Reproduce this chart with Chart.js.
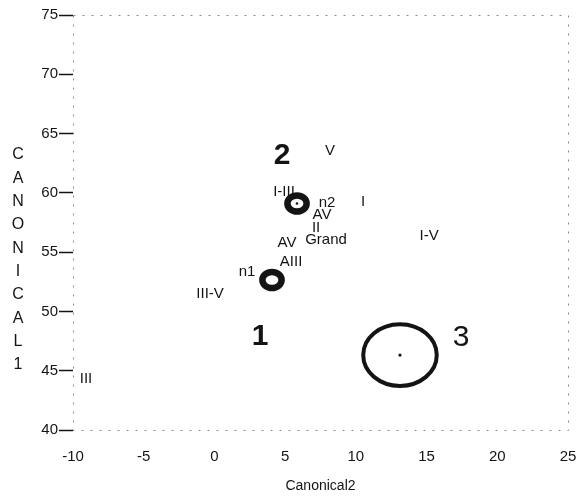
<!DOCTYPE html>
<html>
<head>
<meta charset="utf-8">
<script src="https://cdn.jsdelivr.net/npm/chart.js@4"></script>
<style>
  html, body { margin: 0; padding: 0; background: #fff; }
  #wrap { width: 581px; height: 499px; position: relative; }
</style>
</head>
<body>
<div id="wrap"><canvas id="canChart"></canvas></div>
<script>
// --- data: cluster centres (Canonical2, Canonical1) + circle radius in data units ---
const clusterX = [4.07, 5.84, 13.12];
const clusterY = [52.65, 59.10, 46.32];
const clusterR = [0.68, 0.68, 2.6];

const clusterNames = ['1', '2', '3'];
const clusterNameX = [3.22, 4.78, 17.44];
const clusterNameY = [47.84, 63.1, 47.76];

// point labels
const labelText = ['V', 'I-III', 'n2', 'I', 'AV', 'II', 'AV', 'Grand', 'AIII', 'n1', 'III-V', 'I-V', 'III'];
const labelX = [8.18, 4.92, 7.96, 10.51, 7.61, 7.19, 5.13, 7.89, 5.42, 2.31, -0.31, 15.18, -9.08];
const labelY = [63.52, 60.07, 59.14, 59.22, 58.13, 57.03, 55.77, 56.02, 54.17, 53.32, 51.47, 56.36, 44.3];

const xTicks = [-10, -5, 0, 5, 10, 15, 20, 25];
const yTicks = [40, 45, 50, 55, 60, 65, 70, 75];
const xTitle = 'Canonical2';
const yTitle = 'CANONICAL1';

const FONT = '"Liberation Sans", Arial, sans-serif';
const INK = '#141414';

// --- plugins ---
const framePlugin = {
    id: 'frame',
    beforeDatasetsDraw(chart) {
        const { ctx, chartArea: a } = chart;
        ctx.save();
        ctx.strokeStyle = '#8a8a8a';
        ctx.lineWidth = 1;
        ctx.setLineDash([2, 7]);
        ctx.strokeRect(a.left + 0.5, a.top + 0.5, a.right - a.left, a.bottom - a.top);
        ctx.restore();
    }
};

const ringPlugin = {
    id: 'rings',
    afterDatasetsDraw(chart) {
        const { ctx, scales: { x, y } } = chart;
        const meta = chart.getDatasetMeta(0);
        ctx.save();
        ctx.strokeStyle = INK;
        meta.data.forEach((pt, i) => {
            const rx = Math.abs(x.getPixelForValue(clusterX[i] + clusterR[i]) - pt.x);
            const ry = Math.abs(y.getPixelForValue(clusterY[i] + clusterR[i]) - pt.y);
            ctx.lineWidth = i < 2 ? 6.5 : 4;
            ctx.beginPath();
            ctx.ellipse(pt.x, pt.y, rx, ry, 0, 0, Math.PI * 2);
            ctx.stroke();
        });
        ctx.restore();
    }
};

const textPlugin = {
    id: 'texts',
    afterDatasetsDraw(chart) {
        const { ctx } = chart;
        ctx.save();
        ctx.fillStyle = INK;
        ctx.textAlign = 'center';
        ctx.textBaseline = 'middle';
        // cluster numbers
        chart.getDatasetMeta(1).data.forEach((pt, i) => {
            ctx.font = (i < 2 ? 'bold ' : '') + '30px ' + FONT;
            ctx.fillText(clusterNames[i], pt.x, pt.y);
        });
        // small labels
        ctx.font = '15px ' + FONT;
        chart.getDatasetMeta(2).data.forEach((pt, i) => {
            ctx.fillText(labelText[i], pt.x, pt.y);
        });
        // stacked vertical y title
        ctx.font = '16px ' + FONT;
        const top = chart.chartArea.top + 140;
        yTitle.split('').forEach((ch, i) => ctx.fillText(ch, 18, top + i * 23.3));
        ctx.restore();
    }
};

// --- chart ---
new Chart(document.getElementById('canChart'), {
    type: 'scatter',
    data: {
        datasets: [
            {
                label: 'clusters',
                data: clusterX.map((v, i) => ({ x: v, y: clusterY[i] })),
                pointRadius: [0, 1.3, 1.6],
                backgroundColor: INK,
                borderWidth: 0
            },
            {
                label: 'cluster names',
                data: clusterNameX.map((v, i) => ({ x: v, y: clusterNameY[i] })),
                pointRadius: 0
            },
            {
                label: 'labels',
                data: labelX.map((v, i) => ({ x: v, y: labelY[i] })),
                pointRadius: 0
            }
        ]
    },
    options: {
        responsive: true,
        maintainAspectRatio: false,
        animation: false,
        layout: { padding: { top: 15, right: 0, left: 0, bottom: 0 } },
        plugins: { legend: { display: false }, tooltip: { enabled: false } },
        scales: {
            x: {
                type: 'linear', min: -10, max: 25,
                afterBuildTicks: s => { s.ticks = xTicks.map(v => ({ value: v })); },
                afterFit: s => { s.height = 69; s.paddingRight = 13; s.paddingLeft = 0; },
                grid: { display: false, drawTicks: false },
                border: { display: false },
                ticks: { color: INK, padding: 18, font: { family: FONT, size: 15 }, maxRotation: 0 },
                title: { display: true, text: xTitle, color: INK, font: { family: FONT, size: 14 }, padding: { top: 10 } }
            },
            y: {
                type: 'linear', min: 40, max: 75,
                afterBuildTicks: s => { s.ticks = yTicks.map(v => ({ value: v })); },
                afterFit: s => { s.width = 73; },
                grid: { drawOnChartArea: false, drawTicks: true, tickLength: 14, color: INK, tickWidth: 1.5 },
                border: { display: false },
                ticks: { color: INK, padding: 1, font: { family: FONT, size: 15 } }
            }
        }
    },
    plugins: [framePlugin, ringPlugin, textPlugin]
});
</script>
</body>
</html>
